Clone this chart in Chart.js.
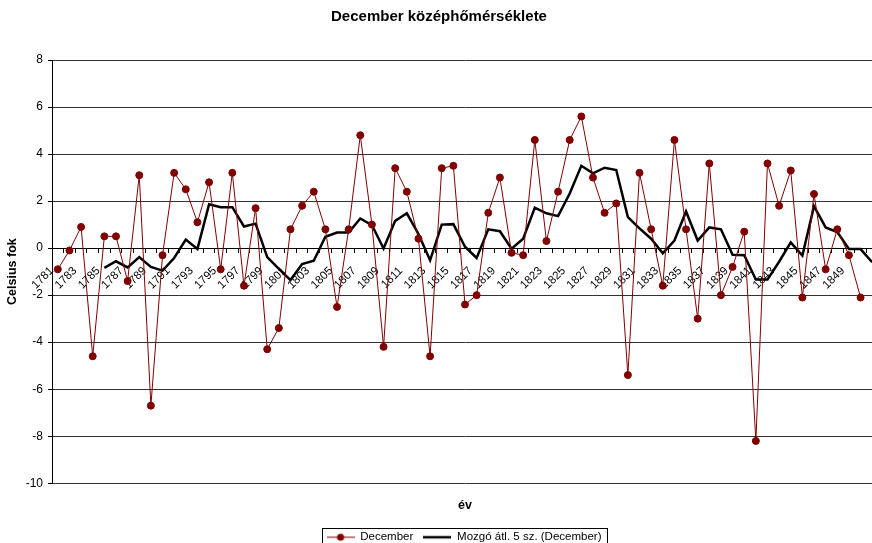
<!DOCTYPE html>
<html>
<head>
<meta charset="utf-8">
<script src="https://cdn.jsdelivr.net/npm/chart.js@4.4.1/dist/chart.umd.min.js"></script>
<style>
  html, body { margin: 0; padding: 0; background: #fff; overflow: hidden; }
  #wrap { width: 872px; height: 543px; overflow: hidden; }
</style>
</head>
<body>
<div id="wrap"><canvas id="c" width="880" height="560"></canvas></div>
<script>
// évek (kategóriák)
const years = [1781, 1782, 1783, 1784, 1785, 1786, 1787, 1788, 1789, 1790,
  1791, 1792, 1793, 1794, 1795, 1796, 1797, 1798, 1799, 1800,
  1801, 1802, 1803, 1804, 1805, 1806, 1807, 1808, 1809, 1810,
  1811, 1812, 1813, 1814, 1815, 1816, 1817, 1818, 1819, 1820,
  1821, 1822, 1823, 1824, 1825, 1826, 1827, 1828, 1829, 1830,
  1831, 1832, 1833, 1834, 1835, 1836, 1837, 1838, 1839, 1840,
  1841, 1842, 1843, 1844, 1845, 1846, 1847, 1848, 1849, 1850, 1851];

// decemberi középhőmérséklet
const december = [-0.9, -0.1, 0.9, -4.6, 0.5, 0.5, -1.4, 3.1, -6.7, -0.3,
  3.2, 2.5, 1.1, 2.8, -0.9, 3.2, -1.6, 1.7, -4.3, -3.4,
  0.8, 1.8, 2.4, 0.8, -2.5, 0.8, 4.8, 1.0, -4.2, 3.4,
  2.4, 0.4, -4.6, 3.4, 3.5, -2.4, -2.0, 1.5, 3.0, -0.2,
  -0.3, 4.6, 0.3, 2.4, 4.6, 5.6, 3.0, 1.5, 1.9, -5.4,
  3.2, 0.8, -1.6, 4.6, 0.8, -3.0, 3.6, -2.0, -0.8, 0.7,
  -8.2, 3.6, 1.8, 3.3, -2.1, 2.3, -0.9, 0.8, -0.3, -2.1, null];

// mozgó átlag (5 sz.)
const movingAvg = [null, null, null, null, -0.84, -0.56, -0.82, -0.38, -0.8, -0.96,
  -0.42, 0.36, -0.04, 1.86, 1.74, 1.74, 0.92, 1.04, -0.38, -0.88,
  -1.36, -0.68, -0.54, 0.48, 0.66, 0.66, 1.26, 0.98, -0.02, 1.16,
  1.48, 0.6, -0.52, 1.0, 1.02, 0.06, -0.42, 0.8, 0.72, -0.02,
  0.4, 1.72, 1.48, 1.36, 2.32, 3.5, 3.18, 3.42, 3.32, 1.32,
  0.84, 0.4, -0.22, 0.32, 1.56, 0.32, 0.88, 0.8, -0.28, -0.3,
  -1.34, -1.34, -0.58, 0.24, -0.32, 1.78, 0.88, 0.68, -0.04, -0.04, -0.6];

const yTicks = [-10, -8, -6, -4, -2, 0, 2, 4, 6, 8];

const RED = '#800000';
const FONT = 'Arial, "Liberation Sans", sans-serif';

// jelmagyarázat jelei
function legendMark(color, width, dot) {
  let c = document.createElement('canvas');
  c.width = 28; c.height = 10;
  let g = c.getContext('2d');
  g.strokeStyle = color;
  g.lineWidth = width;
  g.beginPath(); g.moveTo(0, 5); g.lineTo(28, 5); g.stroke();
  if (dot) {
    g.fillStyle = color;
    g.beginPath(); g.arc(14, 5, 3.5, 0, Math.PI * 2); g.fill();
  }
  return c;
}
const marks = [legendMark(RED, 1, true), legendMark('#000', 2.5, false)];

const tweak = {
  id: 'tweak',
  afterLayout(chart) {
    chart.legend.left += 25;
    chart.legend.right += 25;
  },
  afterDraw(chart) {
    let hb = chart.legend.legendHitBoxes;
    if (!hb || !hb.length) return;
    let last = hb[hb.length - 1];
    let x0 = Math.round(hb[0].left - 5) + 0.5;
    let x1 = Math.round(last.left + last.width + 6) + 0.5;
    let y0 = Math.round(hb[0].top - 4) + 0.5;
    let ctx = chart.ctx;
    ctx.save();
    ctx.strokeStyle = '#000';
    ctx.lineWidth = 1;
    ctx.strokeRect(x0, y0, x1 - x0, 30);
    ctx.restore();
  }
};

new Chart(document.getElementById('c'), {
  type: 'line',
  plugins: [tweak],
  data: {
    labels: years,
    datasets: [{
      label: 'December',
      data: december,
      borderColor: RED,
      backgroundColor: RED,
      borderWidth: 1,
      pointRadius: 3.5,
      pointBorderWidth: 1,
      pointBackgroundColor: RED,
      pointBorderColor: RED,
      tension: 0
    }, {
      label: 'Mozgó átl. 5 sz. (December)',
      data: movingAvg,
      borderColor: '#000',
      backgroundColor: '#000',
      borderWidth: 2.5,
      pointRadius: 0,
      tension: 0
    }]
  },
  options: {
    responsive: false,
    animation: false,
    devicePixelRatio: 1,
    layout: { autoPadding: false, padding: { left: 0, right: 2, top: 0, bottom: 7 } },
    plugins: {
      title: {
        display: true,
        text: 'December középhőmérséklete',
        color: '#000',
        font: { family: FONT, size: 15, weight: 'bold' },
        padding: { top: 8, bottom: 34 }
      },
      legend: {
        position: 'bottom',
        labels: {
          color: '#000',
          font: { family: FONT, size: 11.5 },
          usePointStyle: true,
          pointStyleWidth: 28,
          padding: 10,
          generateLabels(chart) {
            let items = Chart.defaults.plugins.legend.labels.generateLabels(chart);
            items.forEach((it, i) => { it.pointStyle = marks[i]; });
            return items;
          }
        }
      },
      tooltip: { enabled: false }
    },
    scales: {
      x: {
        type: 'category',
        position: { y: 0 },
        offset: true,
        afterFit(scale) { scale.paddingLeft = 0; scale.paddingRight = 0; },
        grid: { display: true, drawOnChartArea: false, offset: true, tickLength: 4, tickColor: '#000' },
        border: { display: true, color: '#000', width: 1 },
        ticks: {
          autoSkip: false,
          minRotation: 45,
          maxRotation: 45,
          padding: 12,
          labelOffset: -6,
          color: '#000',
          font: { family: FONT, size: 11.5 },
          callback(val, i) { return (i % 2 === 0 && i < 70) ? String(years[i]) : ''; }
        }
      },
      x2: {
        type: 'category',
        position: 'bottom',
        grid: { display: false, drawTicks: false },
        border: { display: false },
        ticks: { display: false },
        title: {
          display: true,
          text: 'év',
          color: '#000',
          font: { family: FONT, size: 12.5, weight: 'bold' },
          padding: { top: 14.5, bottom: 8.75 }
        }
      },
      y: {
        min: -10,
        max: 8,
        afterBuildTicks(scale) { scale.ticks = yTicks.map(v => ({ value: v })); },
        afterFit(scale) { scale.width = 52; },
        grid: { color: '#333', tickLength: 4, tickColor: '#000' },
        border: { display: true, color: '#000', width: 1 },
        ticks: {
          padding: 5,
          color: '#000',
          font: { family: FONT, size: 12 }
        },
        title: {
          display: true,
          text: 'Celsius fok',
          color: '#000',
          font: { family: FONT, size: 12.5, weight: 'bold' },
          padding: { top: 5, bottom: 0 }
        }
      }
    }
  }
});
</script>
</body>
</html>
